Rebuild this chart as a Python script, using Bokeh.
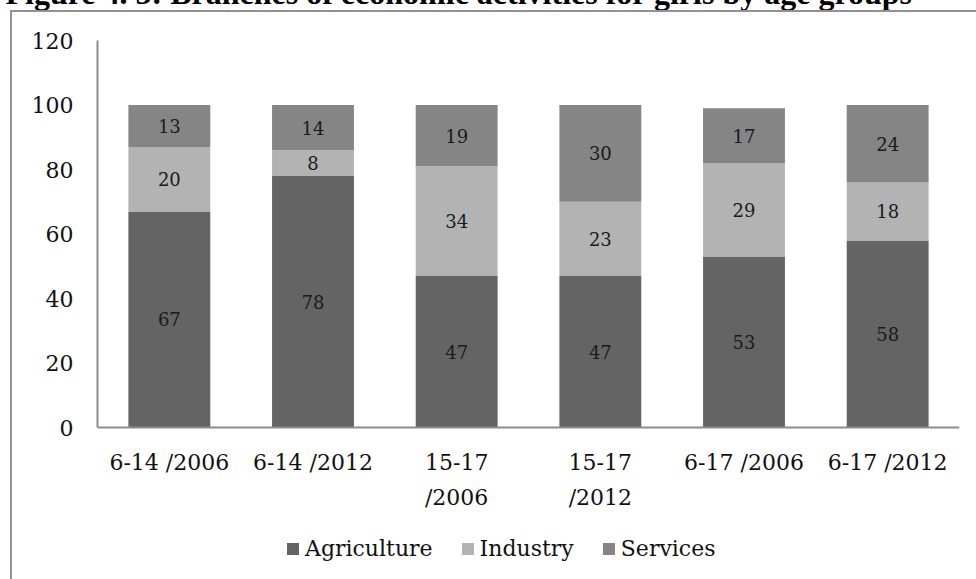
from bokeh.plotting import figure
from bokeh.models import (ColumnDataSource, Range1d, FactorRange, Legend, LegendItem,
                          LabelSet, FixedTicker, InlineStyleSheet)
from bokeh.core.properties import value
from bokeh.embed import file_html
from bokeh.resources import INLINE

# ---- data ----
groups = ["6-14 /2006", "6-14 /2012", "15-17\n/2006", "15-17\n/2012", "6-17 /2006", "6-17 /2012"]
agriculture = [67, 78, 47, 47, 53, 58]
industry = [20, 8, 34, 23, 29, 18]
services = [13, 14, 19, 30, 17, 24]
series_names = ["Agriculture", "Industry", "Services"]
series_colors = ["#646464", "#b3b3b3", "#858585"]
y_ticks = [0, 20, 40, 60, 80, 100, 120]
y_max = 120
title_text = "Figure 4. 5: Branches of economic activities for girls by age groups"

SERIF = "DejaVu Serif"
TOP = 110            # space above the plot frame (title panel)
SHIFT = TOP - 40     # the top of the figure sits above the window, cutting the title like the original
AXIS_PX = 387        # pixels between 0 and 120 on the value axis
FRAME_H = 545        # frame extends below the category axis so that the legend fits inside it
y_start = -(FRAME_H - AXIS_PX) * y_max / AXIS_PX

p = figure(x_range=FactorRange(factors=groups, range_padding=0),
           y_range=Range1d(y_start, y_max),
           frame_width=862, frame_height=FRAME_H,
           output_backend="svg", toolbar_location=None,
           min_border_left=97, min_border_right=17, min_border_top=TOP,
           min_border_bottom=0)
p.styles = {"margin-top": f"-{SHIFT}px"}
p.stylesheets = [InlineStyleSheet(css=(
    ":host { position: relative; }"
    ":host::after { content: ''; position: absolute; left: 10px; top: %dpx; right: 0; bottom: 0;"
    " border-left: 2px solid #929292; border-top: 2px solid #929292; pointer-events: none; z-index: 5; }"
    % (10 + SHIFT)))]
p.outline_line_color = None
p.xgrid.grid_line_color = None
p.ygrid.grid_line_color = None
p.background_fill_color = "white"
p.border_fill_color = "white"

# title
p.title.text = title_text
p.title.text_font = "Liberation Serif"
p.title.text_font_style = "bold"
p.title.text_font_size = "32px"
p.title.text_color = "black"
p.title.align = "left"
p.title.offset = -92
p.title.standoff = 59

src = ColumnDataSource(dict(group=groups, Agriculture=agriculture,
                            Industry=industry, Services=services))
renderers = p.vbar_stack(series_names, x="group", width=0.57, source=src,
                         fill_color=series_colors, line_color=None)

# data labels (segment centres)
lx, ly, lt = [], [], []
series_vals = [agriculture, industry, services]
for i, g in enumerate(groups):
    bottom = 0
    for vals in series_vals:
        v = vals[i]
        lx.append(g)
        ly.append(bottom + v / 2)
        lt.append(str(v))
        bottom += v
lsrc = ColumnDataSource(dict(x=lx, y=ly, text=lt))
p.add_layout(LabelSet(x="x", y="y", text="text", source=lsrc, text_align="center",
                      text_baseline="middle", text_font=value(SERIF), text_font_size="18px",
                      text_color="#1a1a1a"))

# axes
for ax in (p.xaxis[0], p.yaxis[0]):
    ax.axis_line_color = "#8c8c8c"
    ax.axis_line_width = 2
    ax.major_tick_line_color = None
    ax.minor_tick_line_color = None
    ax.major_tick_out = 0
    ax.major_tick_in = 0
    ax.major_label_text_font = SERIF
    ax.major_label_text_font_size = "22px"
    ax.major_label_text_color = "#111111"
p.yaxis.ticker = FixedTicker(ticks=y_ticks)
p.yaxis.bounds = (0, y_max)
p.yaxis.major_label_standoff = 24
p.xaxis.fixed_location = 0
p.xaxis.major_label_standoff = 22
p.xaxis.major_label_text_line_height = 1.4

legend = Legend(items=[LegendItem(label=n, renderers=[r]) for n, r in zip(series_names, renderers)],
                orientation="horizontal", location=(188, 24),
                glyph_width=15, glyph_height=15, label_standoff=5, spacing=27,
                padding=0, margin=0, border_line_color=None, background_fill_alpha=0,
                label_text_font=SERIF, label_text_font_size="22px",
                label_text_color="#111111")
p.add_layout(legend, "center")

open("out.html", "w").write(file_html(p, INLINE))
